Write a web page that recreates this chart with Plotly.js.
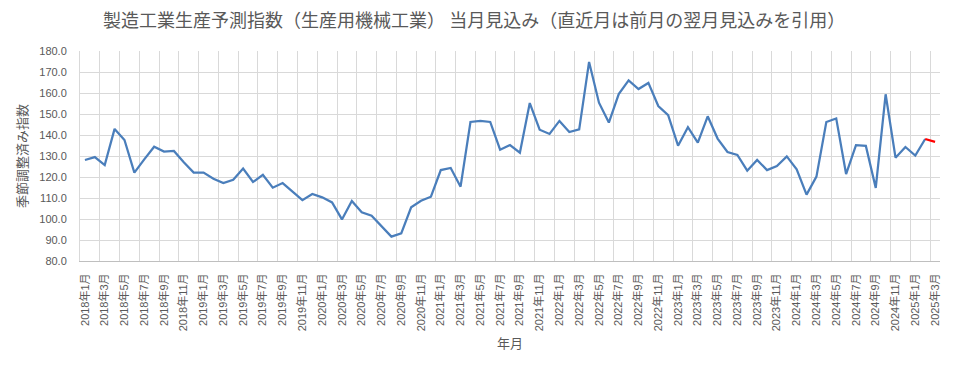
<!DOCTYPE html>
<html><head><meta charset="utf-8">
<script src="https://cdn.plot.ly/plotly-3.0.1.min.js"></script>
<style>html,body{margin:0;padding:0;background:#fff;}#chart{width:954px;height:368px;}</style>
</head><body><div id="chart"></div>
<script>
// Monthly categories 2018年1月 .. 2025年3月
const years = [2018, 2019, 2020, 2021, 2022, 2023, 2024, 2025];
const months = [];
for (const y of years) {
  for (let m = 1; m <= 12; m++) {
    if (y === 2025 && m > 3) break;
    months.push(y + '年' + m + '月');
  }
}
// Seasonally adjusted index
const values = [
  128.1, 129.5, 125.7, 142.9, 137.6, 122.1, 128.4, 134.4, 132.1, 132.4, 127.0, 122.1,
  122.1, 119.2, 117.1, 118.7, 124.0, 117.6, 121.0, 114.9, 117.1, 113.0, 109.0, 111.9,
  110.3, 107.9, 99.8, 108.6, 103.2, 101.6, 96.7, 91.6, 93.2, 105.6, 108.7, 110.6,
  123.3, 124.3, 115.4, 146.2, 146.7, 146.2, 133.0, 135.2, 131.6, 155.2, 142.5, 140.5,
  146.7, 141.4, 142.7, 174.8, 155.4, 145.9, 159.5, 166.0, 161.9, 164.8, 153.8, 149.5,
  134.9, 143.7, 136.4, 148.9, 138.3, 131.9, 130.5, 123.0, 128.1, 123.3, 125.2, 129.8,
  123.7, 111.6, 120.2, 146.2, 147.9, 121.4, 135.2, 134.8, 114.8, 159.4, 129.2, 134.3,
  130.2, 138.1, 136.7
];
const idx = months.map((_, i) => i);
const n = months.length;
const tickIdx = idx.filter(i => i % 2 === 0);
const tickLabels = tickIdx.map(i => months[i]);
const gridVals = [];
for (let k = 0; k < n; k += 2) gridVals.push(k - 0.5);

const blue = {
  x: idx.slice(0, n - 1), y: values.slice(0, n - 1),
  type: 'scatter', mode: 'lines',
  line: {color: '#4A7EBB', width: 2.25}, hoverinfo: 'x+y', showlegend: false
};
const red = {
  x: idx.slice(n - 2), y: values.slice(n - 2),
  type: 'scatter', mode: 'lines',
  line: {color: '#FF0000', width: 2.25}, showlegend: false
};
const font = '"Liberation Sans", "Noto Sans CJK JP", sans-serif';
const layout = {
  width: 954, height: 368,
  margin: {l: 80, r: 14, t: 51, b: 107},
  paper_bgcolor: '#fff', plot_bgcolor: '#fff',
  font: {family: font, color: '#595959', size: 11},
  title: {text: '製造工業生産予測指数（生産用機械工業） 当月見込み（直近月は前月の翌月見込みを引用）',
    font: {family: '"Noto Sans CJK JP", sans-serif', size: 18, color: '#595959'},
    x: 0.497, xanchor: 'center', y: 0.945, yanchor: 'middle'},
  xaxis: {
    range: [-0.5, n - 0.5], tickmode: 'array', tickvals: tickIdx, ticktext: tickLabels,
    tickangle: -90, ticks: '', showgrid: false, zeroline: false,
    showline: true, linecolor: '#BFBFBF', linewidth: 1,
    ticklabelstandoff: 7,
    tickfont: {size: 11, color: '#595959', family: font},
    minor: {tickmode: 'array', tickvals: gridVals, showgrid: true, gridcolor: '#D9D9D9', gridwidth: 1, ticks: ''},
    title: {text: '年月', font: {size: 13, color: '#595959', family: font}, standoff: 8}
  },
  yaxis: {
    range: [80, 180], dtick: 10, tick0: 80, tickformat: '.1f',
    showgrid: true, gridcolor: '#D9D9D9', gridwidth: 1, zeroline: false,
    showline: true, linecolor: '#D9D9D9', ticks: '', ticklabelstandoff: 10,
    tickfont: {size: 11, color: '#595959', family: font},
    title: {text: '季節調整済み指数', font: {size: 13, color: '#595959', family: font}, standoff: 8}
  }
};
Plotly.newPlot('chart', [blue, red], layout, {displayModeBar: false, staticPlot: true});
</script>
</body></html>
